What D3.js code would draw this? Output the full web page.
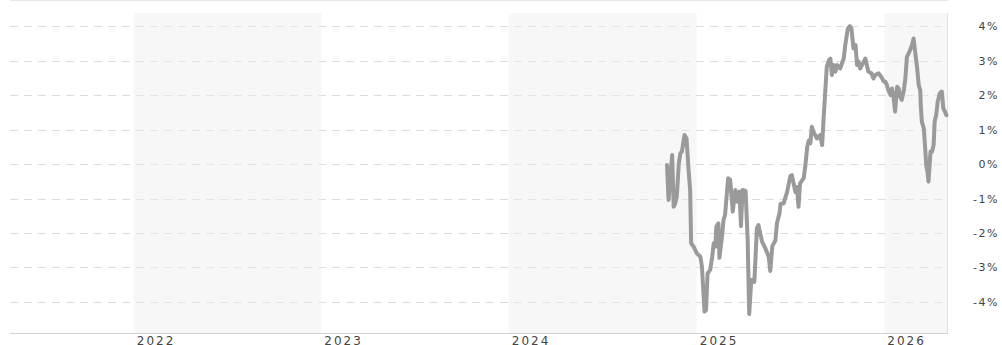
<!DOCTYPE html>
<html>
<head>
<meta charset="utf-8">
<script src="https://cdn.jsdelivr.net/npm/d3@7"></script>
<style>
  html, body { margin: 0; padding: 0; background: #fff; }
  svg { display: block; }
  text { font-family: "DejaVu Sans", Verdana, sans-serif; fill: #444; }
</style>
</head>
<body>
<svg id="chart" width="1002" height="345"></svg>
<script>
// Relative performance series (percent)
const dates = [
  "2024-11-04","2024-11-07","2024-11-14","2024-11-17","2024-11-20","2024-11-23","2024-11-27","2024-11-30",
  "2024-12-03","2024-12-08","2024-12-12","2024-12-16","2024-12-19","2024-12-21","2024-12-26",
  "2025-01-01","2025-01-08","2025-01-11","2025-01-14","2025-01-16","2025-01-19","2025-01-22","2025-01-27","2025-01-31",
  "2025-02-03","2025-02-06","2025-02-08","2025-02-12","2025-02-14","2025-02-19","2025-02-22","2025-02-25",
  "2025-03-03","2025-03-07","2025-03-12","2025-03-17","2025-03-21","2025-03-25","2025-03-28","2025-03-31",
  "2025-04-06","2025-04-10","2025-04-13","2025-04-17","2025-04-23","2025-04-28",
  "2025-05-01","2025-05-08","2025-05-14","2025-05-21","2025-05-24","2025-05-28",
  "2025-06-03","2025-06-06","2025-06-11","2025-06-13","2025-06-19","2025-06-26",
  "2025-07-02","2025-07-05","2025-07-12","2025-07-15","2025-07-18","2025-07-21","2025-07-28","2025-07-31",
  "2025-08-04","2025-08-07","2025-08-10","2025-08-13","2025-08-16","2025-08-23","2025-08-29",
  "2025-09-02","2025-09-05","2025-09-08","2025-09-11","2025-09-15","2025-09-18","2025-09-21","2025-09-24","2025-09-28",
  "2025-10-01","2025-10-07","2025-10-14","2025-10-17","2025-10-22","2025-10-26","2025-10-29",
  "2025-11-02","2025-11-06","2025-11-09","2025-11-12","2025-11-15","2025-11-22","2025-11-25","2025-11-28",
  "2025-12-01","2025-12-07","2025-12-11","2025-12-14","2025-12-21","2025-12-26","2025-12-31",
  "2026-01-03","2026-01-06","2026-01-09","2026-01-13","2026-01-16","2026-01-19","2026-01-22","2026-01-26","2026-01-29",
  "2026-02-01","2026-02-04","2026-02-08","2026-02-11","2026-02-14","2026-02-19","2026-02-24","2026-02-27",
  "2026-03-02","2026-03-06","2026-03-09","2026-03-12","2026-03-13","2026-03-15","2026-03-19","2026-03-22","2026-03-24","2026-03-26","2026-03-28",
  "2026-04-01","2026-04-04","2026-04-07","2026-04-09","2026-04-12","2026-04-15","2026-04-19","2026-04-23","2026-04-26","2026-04-29",
  "2026-05-02"
];
const values = [
  -0.03,-1.04,0.26,-1.24,-1.14,-0.95,0.02,0.31,
  0.36,0.84,0.74,-0.17,-0.75,-2.30,-2.40,
  -2.59,-2.69,-2.98,-3.75,-4.28,-4.23,-3.17,-3.07,-2.69,
  -2.30,-2.40,-1.82,-1.72,-2.72,-2.11,-1.62,-1.48,
  -0.41,-0.46,-1.38,-0.75,-1.09,-0.80,-1.80,-0.75,
  -0.78,-2.20,-4.35,-3.36,-3.42,-1.86,
  -1.77,-2.25,-2.43,-2.69,-3.10,-2.38,
  -2.22,-1.72,-1.43,-1.16,-1.14,-0.80,
  -0.35,-0.32,-0.81,-0.67,-1.24,-0.56,-0.41,-0.09,
  0.50,0.68,0.60,1.08,0.94,0.74,0.84,
  0.55,1.37,2.09,2.81,3.01,3.06,2.58,2.87,2.68,
  2.87,2.77,3.06,3.45,3.93,4.00,3.93,
  3.35,3.45,2.87,2.97,2.77,2.97,3.06,2.87,
  2.68,2.63,2.48,2.58,2.63,2.53,2.39,
  2.39,2.29,2.14,2.00,2.19,1.95,1.52,2.24,2.19,
  1.95,1.86,2.14,2.48,3.11,3.26,3.45,3.64,
  3.26,2.77,2.29,2.14,1.71,1.23,1.03,0.36,-0.08,-0.22,-0.51,
  0.36,0.36,0.55,1.23,1.42,1.81,2.05,2.10,1.61,1.52,
  1.42
];

// Axis ticks
const yTicks = [4, 3, 2, 1, 0, -1, -2, -3, -4];
const yearTicks = ["2022", "2023", "2024", "2025", "2026"];
const shadedYears = ["2022", "2024", "2026"];

const parse = d3.timeParse("%Y-%m-%d");
const series = dates.map((d, i) => ({ date: parse(d), value: values[i] }));

const svg = d3.select("#chart");
const plotLeft = 10, plotRight = 948, plotTop = 13, plotBottom = 333;

const x = d3.scaleTime()
  .domain([parse("2021-05-05"), parse("2026-05-05")])
  .range([plotLeft, plotRight]);

const y = d3.scaleLinear()
  .domain([-4.9, 4.38])
  .range([plotBottom, plotTop]);

// Top frame line
svg.append("line")
  .attr("x1", plotLeft).attr("x2", plotRight)
  .attr("y1", 0.5).attr("y2", 0.5)
  .attr("stroke", "#e8e8e8").attr("stroke-width", 1);

// Dashed horizontal gridlines
svg.append("g")
  .selectAll("line")
  .data(yTicks)
  .join("line")
  .attr("x1", plotLeft).attr("x2", plotRight)
  .attr("y1", d => Math.round(y(d)) + 0.5)
  .attr("y2", d => Math.round(y(d)) + 0.5)
  .attr("stroke", "#dcdcdc")
  .attr("stroke-width", 1)
  .attr("stroke-dasharray", "8,6");

// Alternate-year shading
svg.append("g")
  .selectAll("rect")
  .data(shadedYears)
  .join("rect")
  .attr("x", d => x(parse(d + "-01-01")))
  .attr("y", plotTop)
  .attr("width", d => {
    const end = Math.min(x(parse((+d + 1) + "-01-01")), plotRight);
    return end - x(parse(d + "-01-01"));
  })
  .attr("height", plotBottom - plotTop)
  .attr("fill", "rgba(238,238,238,0.45)");

// Right frame and bottom axis line
svg.append("line")
  .attr("x1", plotRight - 0.5).attr("x2", plotRight - 0.5)
  .attr("y1", plotTop).attr("y2", plotBottom)
  .attr("stroke", "#e0e0e0");
svg.append("line")
  .attr("x1", plotLeft).attr("x2", plotRight)
  .attr("y1", plotBottom + 0.5).attr("y2", plotBottom + 0.5)
  .attr("stroke", "#d0d0d0");

// Performance line
const line = d3.line()
  .x(d => x(d.date))
  .y(d => y(d.value));

svg.append("path")
  .datum(series)
  .attr("d", line)
  .attr("fill", "none")
  .attr("stroke", "#9a9a9a")
  .attr("stroke-width", 4)
  .attr("stroke-linejoin", "round")
  .attr("stroke-linecap", "round");

// Y axis labels (right side)
svg.append("g")
  .selectAll("text")
  .data(yTicks)
  .join("text")
  .attr("x", 999)
  .attr("y", d => y(d) + 4)
  .attr("text-anchor", "end")
  .style("font-size", "11px")
  .style("letter-spacing", "1.5px")
  .text(d => d + "%");

// X axis year labels
svg.append("g")
  .selectAll("text")
  .data(yearTicks)
  .join("text")
  .attr("x", d => x(parse(d + "-01-01")) + 3)
  .attr("y", 345)
  .style("font-size", "12px")
  .style("letter-spacing", "2px")
  .text(d => d);
</script>
</body>
</html>
